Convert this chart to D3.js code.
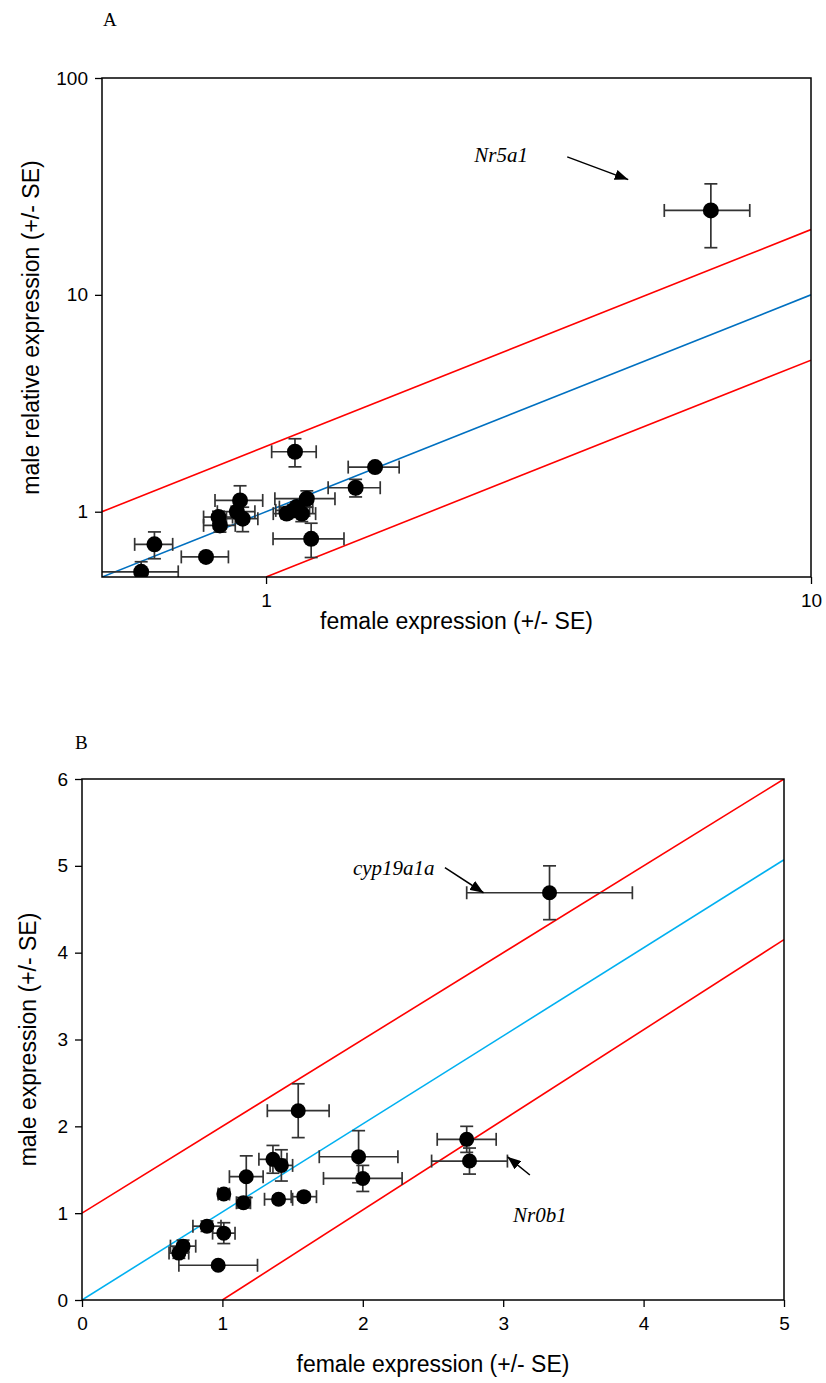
<!DOCTYPE html>
<html>
<head>
<meta charset="utf-8">
<script src="https://cdnjs.cloudflare.com/ajax/libs/d3/7.8.5/d3.min.js"></script>
<style>
body { margin:0; background:#fff; }
svg text { font-family: "Liberation Sans", Arial, sans-serif; }
.serif { font-family: "Liberation Serif", "Times New Roman", serif !important; }
</style>
</head>
<body>
<div id="chart"></div>
<script>
// ---- panel A : log-log, male relative vs female expression ----
var genesA = ['Nr5a1','g1','g2','g3','g4','g5','g6','g7','g8','g9','g10','g11','g12','g13','g14','g15','g16','g17'];
var femaleA   = [6.55, 1.13, 1.585, 1.46, 1.21, 0.624, 0.776, 0.59, 0.818, 0.823, 0.896, 0.884, 0.906, 1.091, 1.138, 1.163, 1.188, 1.122];
var femaleSeA = [1.17, 0.106, 0.17, 0.16, 0.18, 0.05, 0.077, 0.10, 0.05, 0.055, 0.09, 0.07, 0.06, 0.06, 0.08, 0.07, 0.15, 0.08];
var maleA     = [24.5, 1.89, 1.606, 1.29, 0.75, 0.707, 0.619, 0.528, 0.945, 0.865, 1.127, 1.0, 0.929, 0.98, 1.05, 0.98, 1.148, 1.014];
var maleSeA   = [8.0, 0.28, 0.05, 0.12, 0.135, 0.10, 0.02, 0.06, 0.06, 0.06, 0.19, 0.06, 0.12, 0.05, 0.06, 0.08, 0.10, 0.06];
var xTicksA = [1, 10];
var yTicksA = [1, 10, 100];

// ---- panel B : linear, male vs female expression ----
var genesB = ['cyp19a1a','b1','b2','b3','b4','b5','b6','b7','b8','b9','b10','b11','b12','b13','b14','b15','Nr0b1','b17'];
var femaleB   = [3.33, 1.54, 1.36, 1.42, 1.17, 1.01, 1.15, 1.40, 1.58, 0.89, 1.01, 0.72, 0.69, 0.97, 1.97, 2.00, 2.76, 2.74];
var femaleSeB = [0.59, 0.22, 0.10, 0.08, 0.12, 0.04, 0.05, 0.10, 0.09, 0.10, 0.08, 0.09, 0.07, 0.28, 0.28, 0.28, 0.27, 0.21];
var maleB     = [4.69, 2.18, 1.62, 1.55, 1.42, 1.22, 1.12, 1.16, 1.19, 0.85, 0.77, 0.62, 0.54, 0.40, 1.65, 1.40, 1.60, 1.85];
var maleSeB   = [0.31, 0.31, 0.16, 0.18, 0.24, 0.05, 0.06, 0.04, 0.04, 0.06, 0.12, 0.07, 0.06, 0.03, 0.30, 0.15, 0.15, 0.15];
var xTicksB = [0, 1, 2, 3, 4, 5];
var yTicksB = [0, 1, 2, 3, 4, 5, 6];

// reference lines: [x0, y0, x1, y1]
var linesA = [{c:'#0070c0', p:[0.5,0.5,10,10]}, {c:'#ff0000', p:[0.5,1,10,20]}, {c:'#ff0000', p:[1,0.5,10,5]}];
var linesB = [{c:'#00b0f0', p:[0,0,5,5.07]}, {c:'#ff0000', p:[0,1,5,6]}, {c:'#ff0000', p:[1,0,5,4.15]}];

var svg = d3.select('#chart').append('svg').attr('width', 826).attr('height', 1383);

svg.append('defs').append('marker').attr('id','arrow')
	.attr('viewBox','0 0 10 10').attr('refX',10).attr('refY',5)
	.attr('markerWidth',9).attr('markerHeight',7).attr('orient','auto')
	.attr('preserveAspectRatio','none')
	.append('path').attr('d','M0,0 L10,5 L0,10 z').attr('fill','#000');

function rows(x, xs, y, ys){
	return x.map(function(d,i){ return {x:d, xs:xs[i], y:y[i], ys:ys[i]}; });
}

function panel(o){
	var g = svg.append('g').attr('transform','translate('+o.left+','+o.top+')');
	var x = o.x, y = o.y;
	var w = o.width, h = o.height;

	g.append('clipPath').attr('id','clip'+o.id).append('rect').attr('width',w).attr('height',h);

	// axes
	var ax = g.append('g').attr('transform','translate(0,'+h+')')
		.call(d3.axisBottom(x).tickValues(o.xTicks).tickSize(7).tickPadding(10).tickFormat(d3.format('d')));
	var ay = g.append('g')
		.call(d3.axisLeft(y).tickValues(o.yTicks).tickSize(7).tickPadding(7).tickFormat(d3.format('d')));
	[ax, ay].forEach(function(a){
		a.select('.domain').remove();
		a.selectAll('line').attr('stroke','#000').attr('stroke-width',1.3);
		a.selectAll('text').attr('font-size',19).attr('fill','#000');
	});

	var plot = g.append('g').attr('clip-path','url(#clip'+o.id+')');

	plot.selectAll('.ref').data(o.lines).enter().append('line')
		.attr('x1', function(d){return x(d.p[0]);}).attr('y1', function(d){return y(d.p[1]);})
		.attr('x2', function(d){return x(d.p[2]);}).attr('y2', function(d){return y(d.p[3]);})
		.attr('stroke', function(d){return d.c;}).attr('stroke-width',1.6);

	var cap = 6.5;
	var eb = plot.selectAll('.err').data(o.data).enter().append('g').attr('stroke','#333').attr('stroke-width',1.7);
	eb.append('line')
		.attr('x1', function(d){return x(d.x - d.xs);}).attr('x2', function(d){return x(d.x + d.xs);})
		.attr('y1', function(d){return y(d.y);}).attr('y2', function(d){return y(d.y);});
	eb.append('line')
		.attr('x1', function(d){return x(d.x);}).attr('x2', function(d){return x(d.x);})
		.attr('y1', function(d){return y(d.y - d.ys);}).attr('y2', function(d){return y(d.y + d.ys);});
	[-1, 1].forEach(function(s){
		eb.append('line')
			.attr('x1', function(d){return x(d.x + s*d.xs);}).attr('x2', function(d){return x(d.x + s*d.xs);})
			.attr('y1', function(d){return y(d.y) - cap;}).attr('y2', function(d){return y(d.y) + cap;});
		eb.append('line')
			.attr('x1', function(d){return x(d.x) - cap;}).attr('x2', function(d){return x(d.x) + cap;})
			.attr('y1', function(d){return y(d.y + s*d.ys);}).attr('y2', function(d){return y(d.y + s*d.ys);});
	});

	plot.selectAll('.dot').data(o.data).enter().append('circle')
		.attr('cx', function(d){return x(d.x);}).attr('cy', function(d){return y(d.y);})
		.attr('r', o.r).attr('fill','#000');

	// frame
	g.append('rect').attr('width',w).attr('height',h).attr('fill','none').attr('stroke','#000').attr('stroke-width',1.5);

	// titles
	g.append('text').attr('x', w/2).attr('y', h + o.xTitleDy).attr('text-anchor','middle')
		.attr('font-size',23).text(o.xTitle);
	g.append('text').attr('transform','translate('+o.yTitleDx+','+(h/2)+') rotate(-90)')
		.attr('text-anchor','middle').attr('font-size',23).text(o.yTitle);
	g.append('text').attr('class','serif').attr('x', o.letter[0]).attr('y', o.letter[1])
		.attr('font-size',19).text(o.letterText);

	// gene annotations with arrows
	o.notes.forEach(function(n){
		g.append('text').attr('class','serif').attr('x', x(n.tx)).attr('y', y(n.ty))
			.attr('font-size',21).attr('font-style','italic').text(n.label);
		g.append('line').attr('x1', x(n.a[0])).attr('y1', y(n.a[1]))
			.attr('x2', x(n.a[2])).attr('y2', y(n.a[3]))
			.attr('stroke','#000').attr('stroke-width',1.5).attr('marker-end','url(#arrow)');
	});
	return g;
}

panel({
	id:'A', left:102, top:78, width:709, height:499, r:8,
	x: d3.scaleLog().domain([0.5, 10]).range([0, 709]),
	y: d3.scaleLog().domain([0.5, 100]).range([499, 0]),
	xTicks: xTicksA, yTicks: yTicksA,
	data: rows(femaleA, femaleSeA, maleA, maleSeA),
	lines: linesA,
	xTitle: 'female expression (+/- SE)', xTitleDy: 52,
	yTitle: 'male relative expression (+/- SE)', yTitleDx: -63,
	letter: [1, -52], letterText: 'A',
	notes: [{label:'Nr5a1', tx:2.41, ty:41, a:[3.57, 43.3, 4.62, 34]}]
});

panel({
	id:'B', left:82, top:779, width:702, height:521, r:7.5,
	x: d3.scaleLinear().domain([0, 5]).range([0, 702]),
	y: d3.scaleLinear().domain([0, 6]).range([521, 0]),
	xTicks: xTicksB, yTicks: yTicksB,
	data: rows(femaleB, femaleSeB, maleB, maleSeB),
	lines: linesB,
	xTitle: 'female expression (+/- SE)', xTitleDy: 72,
	yTitle: 'male expression (+/- SE)', yTitleDx: -46,
	letter: [-7, -30], letterText: 'B',
	notes: [{label:'cyp19a1a', tx:1.93, ty:4.9, a:[2.585, 4.98, 2.86, 4.69]},
	        {label:'Nr0b1', tx:3.07, ty:0.9, a:[3.19, 1.44, 3.03, 1.65]}]
});
</script>
</body>
</html>
